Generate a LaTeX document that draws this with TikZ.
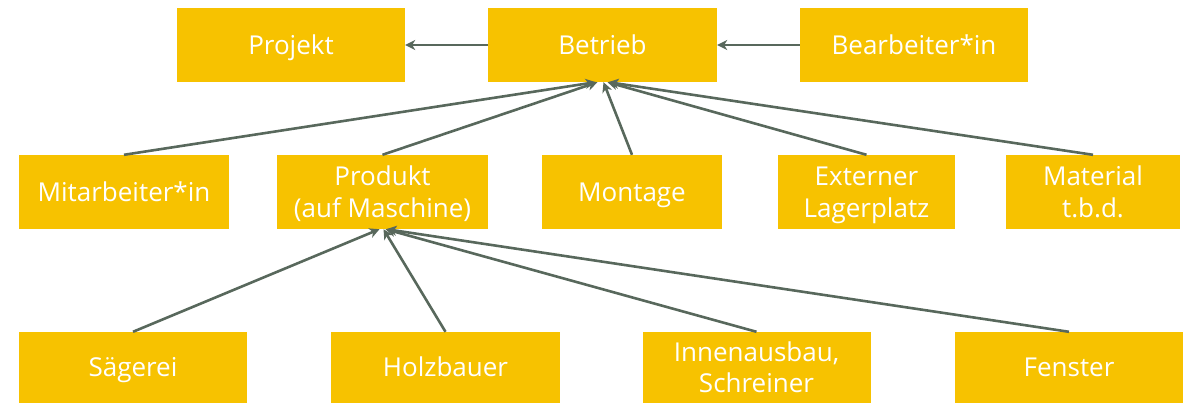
\documentclass[tikz,border=0pt]{standalone}
\usepackage{fontspec}
\setmainfont{Open Sans}
\usetikzlibrary{arrows.meta}
\definecolor{boxyellow}{RGB}{247,194,0}
\definecolor{linkgrey}{RGB}{88,104,92}
% invisible strut that centres the capitals of each line
\newcommand{\capstrut}{\rule[-6pt]{0pt}{31pt}}
\begin{document}
\begin{tikzpicture}[x=1pt,y=-1pt,
  box/.style={fill=boxyellow,draw=none,text=white,align=center,
    inner sep=0pt,font=\fontsize{26}{32}\selectfont},
  link/.style={draw=linkgrey,line width=2.6pt,
    -{Stealth[length=10pt,width=10pt,inset=3pt]}}]
\useasboundingbox (0,0) rectangle (1187,403);
% top row
\node[box,minimum width=228,minimum height=74] (projekt) at (291,45) {\capstrut Projekt};
\node[box,minimum width=229,minimum height=74] (betrieb) at (602.5,45) {\capstrut Betrieb};
\node[box,minimum width=228,minimum height=74] (bearb) at (914,45) {\capstrut Bearbeiter*in};
% middle row
\node[box,minimum width=210,minimum height=74] (mitarb) at (124,192) {\capstrut Mitarbeiter*in};
\node[box,minimum width=211,minimum height=74] (produkt) at (382.5,192) {\capstrut Produkt\\(auf Maschine)\capstrut};
\node[box,minimum width=180,minimum height=74] (montage) at (632,192) {\capstrut Montage};
\node[box,minimum width=177,minimum height=74] (extern) at (866.5,192) {\capstrut Externer\\Lagerplatz\capstrut};
\node[box,minimum width=174,minimum height=74] (material) at (1093,192) {\capstrut Material\\t.b.d.\capstrut};
% bottom row
\node[box,minimum width=228,minimum height=71] (saeg) at (133,367.5) {\capstrut Sägerei};
\node[box,minimum width=229,minimum height=71] (holz) at (445.5,367.5) {\capstrut Holzbauer};
\node[box,minimum width=228,minimum height=71] (innen) at (756.5,367.5) {\capstrut Innenausbau,\\Schreiner\capstrut};
\node[box,minimum width=228,minimum height=71] (fenster) at (1069,367.5) {\capstrut Fenster};
% connectors
\draw[link] (betrieb.west) -- (projekt.east);
\draw[link] (bearb.west) -- (betrieb.east);
\draw[link] (mitarb.north) -- ([xshift=-7]betrieb.south);
\draw[link] (produkt.north) -- ([xshift=-5]betrieb.south);
\draw[link] (montage.north) -- ([xshift=1]betrieb.south);
\draw[link] (extern.north) -- ([xshift=5]betrieb.south);
\draw[link] (material.north) -- ([xshift=6]betrieb.south);
\draw[link] (saeg.north) -- ([xshift=-3]produkt.south);
\draw[link] (holz.north) -- ([xshift=1]produkt.south);
\draw[link] (innen.north) -- ([xshift=3]produkt.south);
\draw[link] (fenster.north) -- ([xshift=4]produkt.south);
\end{tikzpicture}
\end{document}
